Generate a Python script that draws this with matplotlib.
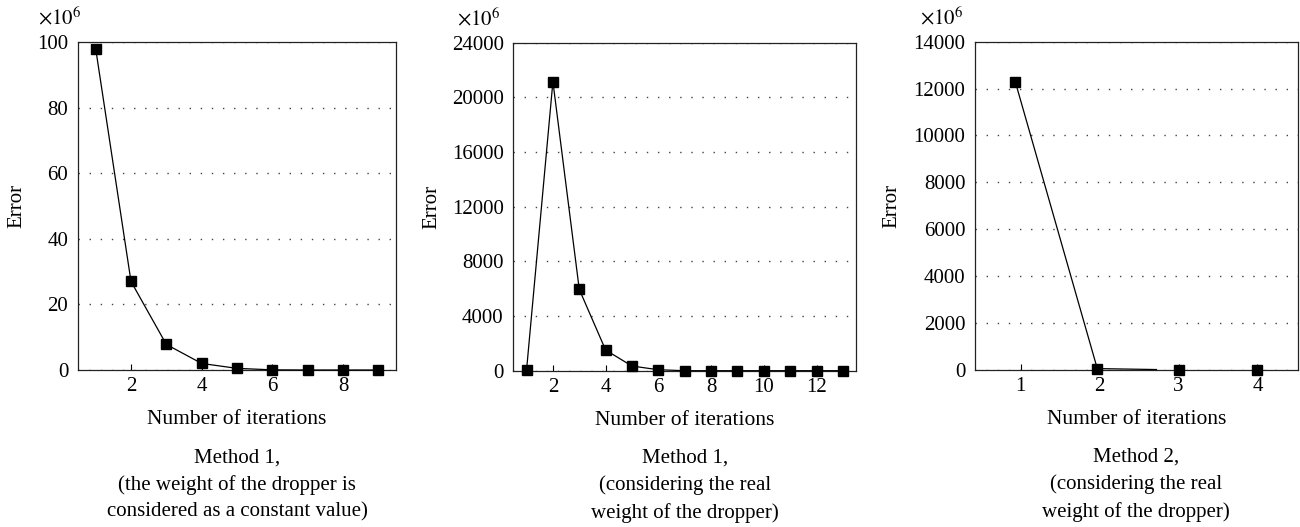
import numpy as np
import matplotlib
matplotlib.use('Agg')
import matplotlib.pyplot as plt

plt.rcParams['font.family'] = ['Liberation Serif', 'DejaVu Serif']
plt.rcParams['mathtext.fontset'] = 'stix'

# Method 1, constant dropper weight (x1e6)
m1c_iter = [1, 2, 3, 4, 5, 6, 7, 8, 9]
m1c_err = [98, 27, 7.8, 2.0, 0.5, 0.05, 0, 0, 0]

# Method 1, real dropper weight (x1e6)
m1r_iter = [1, 2, 3, 4, 5, 6, 7, 8, 9, 10, 11, 12, 13]
m1r_err = [50, 21150, 5950, 1510, 340, 70, 0, 0, 0, 0, 0, 0, 0]

# Method 2, real dropper weight (x1e6)
m2_iter = [0.93, 1.97, 3, 4]
m2_err = [12300, 60, 0, 0]
# the plotted line stops short after the second point
m2_line_iter = [0.93, 1.97, 2.72]
m2_line_err = [12300, 60, 20]

captions = [
    "Method 1,\n(the weight of the dropper is\nconsidered as a constant value)",
    "Method 1,\n(considering the real\nweight of the dropper)",
    "Method 2,\n(considering the real\nweight of the dropper)",
]

fig = plt.figure(figsize=(13, 5.27), dpi=100)

# axes boxes in figure fraction
boxes = [
    [0.060, 0.2979, 0.2446, 0.6224],
    [0.3949, 0.2966, 0.2636, 0.6224],
    [0.750, 0.2979, 0.2482, 0.6230],
]
ylims = [(0, 100), (0, 24000), (0, 14000)]
yticks = [np.arange(0, 101, 20), np.arange(0, 24001, 4000), np.arange(0, 14001, 2000)]
xlims = [(0.5, 9.5), (0.5, 13.5), (0.42, 4.51)]
xticks = [[2, 4, 6, 8], [2, 4, 6, 8, 10, 12], [1, 2, 3, 4]]
sci_x = [-0.126, -0.165, -0.17]
ylab_x = [-0.193, -0.238, -0.257]

axes = [fig.add_axes(b) for b in boxes]

axes[0].plot(m1c_iter, m1c_err, color='black', lw=0.9, marker='s', ms=6.5, clip_on=False, zorder=3)
axes[1].plot(m1r_iter, m1r_err, color='black', lw=0.9, marker='s', ms=6.5, clip_on=False, zorder=3)
axes[2].plot(m2_line_iter, m2_line_err, color='black', lw=0.9, clip_on=False, zorder=3)
axes[2].plot(m2_iter, m2_err, color='black', lw=0, marker='s', ms=6.5, clip_on=False, zorder=3)

for i, ax in enumerate(axes):
    ax.set_xlim(*xlims[i])
    ax.set_ylim(*ylims[i])
    ax.set_yticks(yticks[i])
    ax.set_xticks(xticks[i])
    ax.tick_params(axis='y', length=0, pad=7, labelsize=15)
    ax.tick_params(axis='x', direction='in', length=4, width=0.8, pad=5, labelsize=15)
    ax.grid(axis='y', color='#444444', linestyle=(0, (1, 7)), linewidth=1)
    ax.grid(axis='x', visible=False)
    for s in ax.spines.values():
        s.set_linewidth(0.9)
        s.set_color('#222222')
    ax.set_ylabel('Error', fontsize=15)
    ax.yaxis.set_label_coords(ylab_x[i], 0.5)
    ax.yaxis.label.set_va('center')
    ax.set_xlabel('Number of iterations', fontsize=15.5)
    ax.xaxis.set_label_coords(0.5, -0.152)
    ax.xaxis.label.set_va('center')
    ax.text(sci_x[i], 1.073, r'$\times10^{6}$', transform=ax.transAxes,
            ha='left', va='center', fontsize=15)
    ax.text(0.5, -0.35, captions[i], transform=ax.transAxes, ha='center',
            va='center', fontsize=15, linespacing=1.52)

fig.savefig('out.png', dpi=100)
